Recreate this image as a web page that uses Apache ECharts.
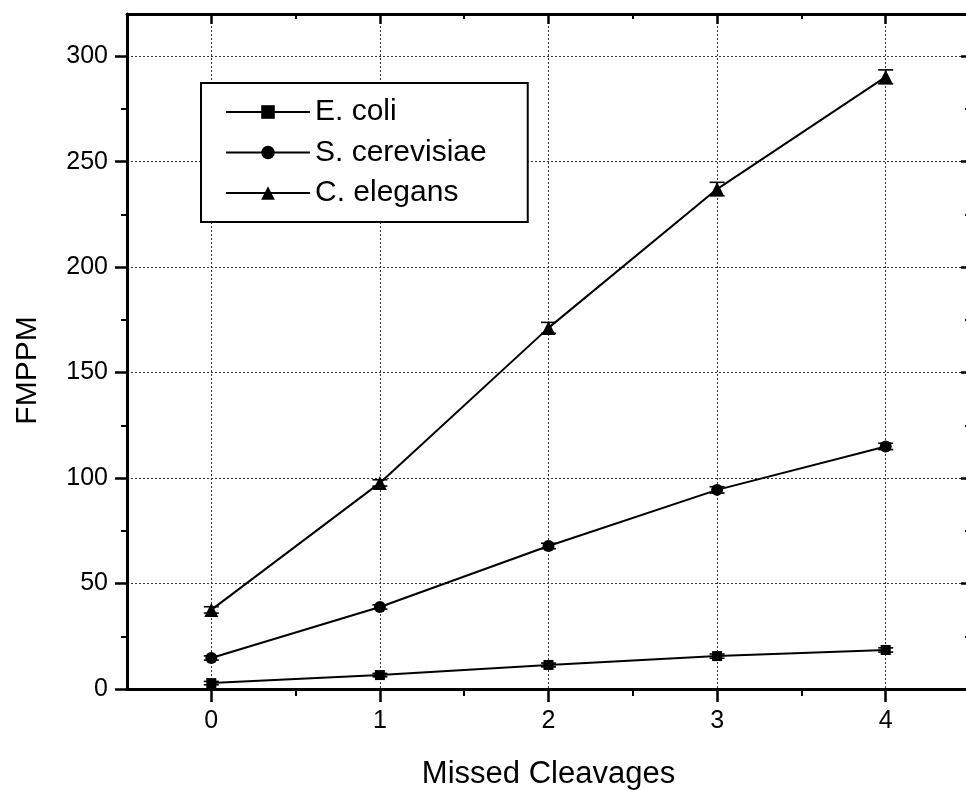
<!DOCTYPE html>
<html><head><meta charset="utf-8">
<script src="https://cdn.jsdelivr.net/npm/echarts@6/dist/echarts.min.js"></script>
<style>html,body{margin:0;padding:0;background:#fff}#c{width:966px;height:790px}</style>
</head><body><div id="c"></div>
<script>
// ---- data ----
const categories = [0, 1, 2, 3, 4];
const seriesNames = ['E. coli', 'S. cerevisiae', 'C. elegans'];
const ecoli = [2.8, 6.6, 11.4, 15.6, 18.5];
const ecoliErr = [0.8, 0.8, 0.9, 1.0, 1.0];
const scer = [14.7, 38.9, 67.8, 94.4, 115.0];
const scerErr = [1.0, 1.0, 1.3, 1.5, 1.5];
const cel = [37.5, 97.7, 171.2, 237.0, 290.2];
const celErr = [1.5, 1.5, 2.6, 3.2, 3.3];
const xTicks = [0, 1, 2, 3, 4];
const xMinorTicks = [0.5, 1.5, 2.5, 3.5];
const yTicks = [0, 50, 100, 150, 200, 250, 300];
const yMinorTicks = [25, 75, 125, 175, 225, 275];
const xMin = -0.5, xMax = 4.5, yMin = 0, yMax = 320;

// ---- build ----
const FONT = '"Liberation Sans", Arial, Helvetica, sans-serif';
const chart = echarts.init(document.getElementById('c'), null, {renderer: 'canvas'});

function pairs(vals) { return categories.map((c, i) => [c, vals[i]]); }
function errData(vals, errs) { return categories.map((c, i) => [c, vals[i] - errs[i], vals[i] + errs[i]]); }

function errRender(params, api) {
  const x = api.value(0), lo = api.value(1), hi = api.value(2);
  const p1 = api.coord([x, hi]), p2 = api.coord([x, lo]);
  const w = 7.5;
  const st = {stroke: '#000', lineWidth: 1.6};
  return {type: 'group', children: [
    {type: 'line', shape: {x1: p1[0], y1: p1[1], x2: p2[0], y2: p2[1]}, style: st},
    {type: 'line', shape: {x1: p1[0] - w, y1: p1[1], x2: p1[0] + w, y2: p1[1]}, style: st},
    {type: 'line', shape: {x1: p2[0] - w, y1: p2[1], x2: p2[0] + w, y2: p2[1]}, style: st}
  ]};
}

const gridLine = {show: true, lineStyle: {color: '#333', width: 1, type: [2, 2]}};
const noLabel = {show: false};

const xAxes = [
  { type: 'value', position: 'bottom', min: xMin, max: xMax,
    axisLine: {show: true, onZero: false, lineStyle: {color: '#000', width: 3}},
    axisTick: {show: true, inside: false, length: 13, customValues: xTicks, lineStyle: {color: '#000', width: 2.5}},
    axisLabel: {show: true, customValues: xTicks, margin: 20, color: '#000', fontSize: 25, fontFamily: FONT},
    splitLine: gridLine,
    name: 'Missed Cleavages', nameLocation: 'middle', nameGap: 70,
    nameTextStyle: {color: '#000', fontSize: 31, fontFamily: FONT} },
  { type: 'value', position: 'bottom', min: xMin, max: xMax,
    axisLine: {show: false, onZero: false},
    axisTick: {show: true, inside: false, length: 7, customValues: xMinorTicks, lineStyle: {color: '#000', width: 2}},
    axisLabel: noLabel, splitLine: {show: false} },
  { type: 'value', position: 'top', min: xMin, max: xMax,
    axisLine: {show: true, onZero: false, lineStyle: {color: '#000', width: 3}},
    axisTick: {show: true, inside: true, length: 10, customValues: xTicks, lineStyle: {color: '#000', width: 2.5}},
    axisLabel: noLabel, splitLine: {show: false} },
  { type: 'value', position: 'top', min: xMin, max: xMax,
    axisLine: {show: false, onZero: false},
    axisTick: {show: true, inside: true, length: 5, customValues: xMinorTicks, lineStyle: {color: '#000', width: 2}},
    axisLabel: noLabel, splitLine: {show: false} }
];

const yAxes = [
  { type: 'value', position: 'left', min: yMin, max: yMax,
    axisLine: {show: true, onZero: false, lineStyle: {color: '#000', width: 3}},
    axisTick: {show: true, inside: false, length: 12, customValues: yTicks, lineStyle: {color: '#000', width: 2.5}},
    axisLabel: {show: true, customValues: yTicks, margin: 19, color: '#000', fontSize: 25, fontFamily: FONT},
    splitLine: gridLine,
    name: 'FMPPM', nameLocation: 'middle', nameGap: 84, nameRotate: 90,
    nameTextStyle: {color: '#000', fontSize: 30, fontFamily: FONT, padding: [0, 38, 0, 0]} },
  { type: 'value', position: 'left', min: yMin, max: yMax,
    axisLine: {show: false, onZero: false},
    axisTick: {show: true, inside: false, length: 6, customValues: yMinorTicks, lineStyle: {color: '#000', width: 2}},
    axisLabel: noLabel, splitLine: {show: false} },
  { type: 'value', position: 'right', min: yMin, max: yMax,
    axisLine: {show: true, onZero: false, lineStyle: {color: '#000', width: 3}},
    axisTick: {show: true, inside: true, length: 9, customValues: yTicks, lineStyle: {color: '#000', width: 2.5}},
    axisLabel: noLabel, splitLine: {show: false} },
  { type: 'value', position: 'right', min: yMin, max: yMax,
    axisLine: {show: false, onZero: false},
    axisTick: {show: true, inside: true, length: 5, customValues: yMinorTicks, lineStyle: {color: '#000', width: 2}},
    axisLabel: noLabel, splitLine: {show: false} }
];

const symbols = ['rect', 'circle', 'triangle'];
const symbolSizes = [10, 12, 14];
const values = [ecoli, scer, cel];
const errs = [ecoliErr, scerErr, celErr];

const series = [];
values.forEach((v, i) => {
  series.push({
    type: 'custom', name: seriesNames[i] + ' err', xAxisIndex: 0, yAxisIndex: 0,
    renderItem: errRender, data: errData(v, errs[i]), z: 3, silent: true,
    encode: {x: 0, y: [1, 2]}
  });
});
values.forEach((v, i) => {
  series.push({
    type: 'line', name: seriesNames[i], xAxisIndex: 0, yAxisIndex: 0,
    data: pairs(v), symbol: symbols[i], symbolSize: symbolSizes[i], showSymbol: true,
    lineStyle: {color: '#000', width: 2}, itemStyle: {color: '#000', borderWidth: 0},
    z: 4, animation: false
  });
});

chart.setOption({
  animation: false,
  backgroundColor: '#fff',
  grid: {left: 127, right: -4, top: 14, bottom: 101, containLabel: false, outerBoundsMode: 'none'},
  xAxis: xAxes,
  yAxis: yAxes,
  legend: {
    data: seriesNames, orient: 'vertical', left: 201, top: 83,
    padding: [14, 41, 14, 24], itemGap: 10.5, itemWidth: 84, itemHeight: 17,
    borderColor: '#000', borderWidth: 2, borderRadius: 0, backgroundColor: '#fff',
    textStyle: {color: '#000', fontSize: 30, fontFamily: FONT, lineHeight: 30},
    selectedMode: false
  },
  series: series
});
</script>
</body></html>
